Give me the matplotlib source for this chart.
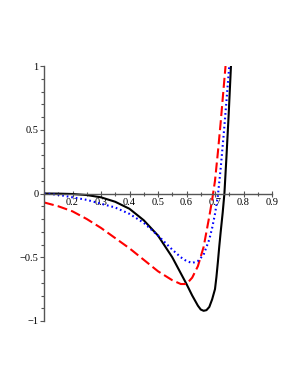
import matplotlib
matplotlib.use("Agg")
import matplotlib.pyplot as plt
from matplotlib.ticker import MultipleLocator

plt.rcParams['font.family'] = ['Liberation Serif', 'DejaVu Serif']

# values
x_black = [0.1, 0.15, 0.2, 0.25, 0.3, 0.35, 0.4, 0.45, 0.5, 0.55, 0.6, 0.62, 0.64, 0.65,
           0.66, 0.67, 0.68, 0.69, 0.7, 0.705, 0.71, 0.715, 0.72, 0.727, 0.733, 0.74,
           0.748, 0.756]
y_black = [0, -0.001, -0.004, -0.012, -0.03, -0.065, -0.12, -0.21, -0.33, -0.5, -0.71,
           -0.8, -0.88, -0.91, -0.92, -0.915, -0.89, -0.83, -0.75, -0.655, -0.54, -0.415,
           -0.3, -0.15, 0, 0.28, 0.62, 1.0]

x_blue = [0.1, 0.15, 0.2, 0.25, 0.3, 0.35, 0.4, 0.45, 0.5, 0.55, 0.58, 0.6, 0.62, 0.64,
          0.66, 0.68, 0.69, 0.7, 0.71, 0.72, 0.73, 0.74, 0.75]
y_blue = [0, -0.01, -0.03, -0.05, -0.08, -0.11, -0.16, -0.23, -0.33, -0.44, -0.5, -0.53,
          -0.545, -0.53, -0.48, -0.36, -0.27, -0.16, -0.02, 0.2, 0.45, 0.72, 1.0]

x_red = [0.1, 0.15, 0.2, 0.25, 0.3, 0.35, 0.4, 0.45, 0.5, 0.55, 0.58, 0.6, 0.62, 0.64,
         0.66, 0.68, 0.69, 0.7, 0.71, 0.72, 0.73, 0.737]
y_red = [-0.07, -0.10, -0.14, -0.2, -0.27, -0.35, -0.43, -0.52, -0.61, -0.68, -0.71, -0.71,
         -0.66, -0.57, -0.42, -0.18, -0.05, 0.1, 0.32, 0.56, 0.82, 1.0]

x_ticks = [0.2, 0.3, 0.4, 0.5, 0.6, 0.7, 0.8, 0.9]
x_tick_labels = ['0.2', '0.3', '0.4', '0.5', '0.6', '0.7', '0.8', '0.9']
y_ticks = [-1, -0.5, 0, 0.5, 1]
y_tick_labels = ['\u22121', '\u22120.5', '0', '0.5', '1']

fig = plt.figure(figsize=(3.0, 3.88), dpi=100)
ax = fig.add_axes([44 / 300, 1 - 321 / 388, 228 / 300, 255 / 388])

ax.plot(x_black, y_black, color='black', lw=1.5, solid_joinstyle='round')
ax.plot(x_red, y_red, color='red', lw=1.5, dashes=(4.8, 2))
ax.plot(x_blue, y_blue, color='blue', lw=1.5, linestyle=(0, (0.8, 1.4)))

ax.set_xlim(0.1, 0.9)
ax.set_ylim(-1, 1)

ax.spines['top'].set_visible(False)
ax.spines['right'].set_visible(False)
ax.spines['left'].set_position(('data', 0.1))
ax.spines['bottom'].set_position(('data', 0))
for s in ('left', 'bottom'):
    ax.spines[s].set_color('#555555')
    ax.spines[s].set_linewidth(1.0)

ax.set_xticks(x_ticks)
ax.set_xticklabels(x_tick_labels)
ax.set_yticks(y_ticks)
ax.set_yticklabels(y_tick_labels)
ax.xaxis.set_minor_locator(MultipleLocator(0.05))
ax.yaxis.set_minor_locator(MultipleLocator(0.1))

ax.tick_params(axis='x', which='both', direction='inout', length=4, width=0.8,
               color='#555555', labelsize=7.5, pad=1)
ax.tick_params(axis='x', which='minor', length=2.5)
ax.tick_params(axis='y', which='both', direction='out', length=3, width=0.8,
               color='#555555', labelsize=7.5, pad=1)
ax.tick_params(axis='y', which='minor', length=2)
ax.patch.set_alpha(0)

fig.savefig('out.png', dpi=100)
